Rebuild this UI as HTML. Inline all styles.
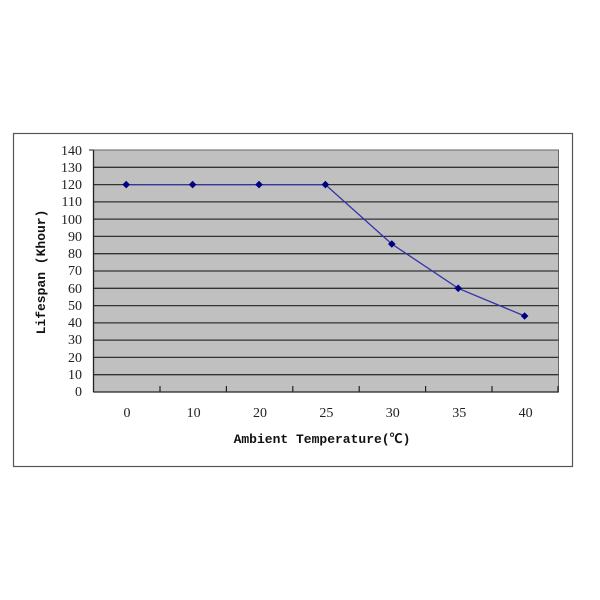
<!DOCTYPE html>
<html><head><style>body{margin:0;background:#fff}</style></head><body>
<svg width="600" height="600" xmlns="http://www.w3.org/2000/svg" style="display:block">
<rect x="13.5" y="133.5" width="559" height="333" fill="#fff" stroke="#555" stroke-width="1.2"/>
<rect x="93.5" y="150" width="465" height="242" fill="#c0c0c0" stroke="#666" stroke-width="1"/>
<g stroke="#333" stroke-width="1.3">
<line x1="93.5" x2="558.5" y1="167.3" y2="167.3"/><line x1="93.5" x2="558.5" y1="184.6" y2="184.6"/>
<line x1="93.5" x2="558.5" y1="201.9" y2="201.9"/><line x1="93.5" x2="558.5" y1="219.1" y2="219.1"/>
<line x1="93.5" x2="558.5" y1="236.4" y2="236.4"/><line x1="93.5" x2="558.5" y1="253.7" y2="253.7"/>
<line x1="93.5" x2="558.5" y1="271" y2="271"/><line x1="93.5" x2="558.5" y1="288.3" y2="288.3"/>
<line x1="93.5" x2="558.5" y1="305.6" y2="305.6"/><line x1="93.5" x2="558.5" y1="322.9" y2="322.9"/>
<line x1="93.5" x2="558.5" y1="340.1" y2="340.1"/><line x1="93.5" x2="558.5" y1="357.4" y2="357.4"/>
<line x1="93.5" x2="558.5" y1="374.7" y2="374.7"/>
</g>
<line x1="93.5" x2="558.5" y1="392" y2="392" stroke="#222" stroke-width="1.3"/>
<line x1="93.5" x2="93.5" y1="150" y2="392" stroke="#222" stroke-width="1.3"/>
<line x1="89" x2="93.5" y1="150" y2="150" stroke="#222"/>
<g stroke="#222" stroke-width="1.2">
<line x1="160" x2="160" y1="386" y2="392"/><line x1="226.4" x2="226.4" y1="386" y2="392"/>
<line x1="292.8" x2="292.8" y1="386" y2="392"/><line x1="359.2" x2="359.2" y1="386" y2="392"/>
<line x1="425.6" x2="425.6" y1="386" y2="392"/><line x1="492" x2="492" y1="386" y2="392"/>
<line x1="558" x2="558" y1="386" y2="392"/>
</g>
<polyline points="126.2,184.6 192.6,184.6 259,184.6 325.4,184.6 391.8,244 458.2,288.3 524.6,316" fill="none" stroke="#3333aa" stroke-width="1.3"/>
<g fill="#000080">
<path d="M126.2,180.8l3.8,3.8l-3.8,3.8l-3.8,-3.8z"/><path d="M192.6,180.8l3.8,3.8l-3.8,3.8l-3.8,-3.8z"/>
<path d="M259,180.8l3.8,3.8l-3.8,3.8l-3.8,-3.8z"/><path d="M325.4,180.8l3.8,3.8l-3.8,3.8l-3.8,-3.8z"/>
<path d="M391.8,240.2l3.8,3.8l-3.8,3.8l-3.8,-3.8z"/><path d="M458.2,284.5l3.8,3.8l-3.8,3.8l-3.8,-3.8z"/>
<path d="M524.6,312.2l3.8,3.8l-3.8,3.8l-3.8,-3.8z"/>
</g>
<g font-family="Liberation Serif, serif" font-size="14" fill="#222" text-anchor="end">
<text x="82" y="155">140</text><text x="82" y="172">130</text><text x="82" y="189">120</text>
<text x="82" y="206">110</text><text x="82" y="224">100</text><text x="82" y="241">90</text>
<text x="82" y="258">80</text><text x="82" y="275">70</text><text x="82" y="293">60</text>
<text x="82" y="310">50</text><text x="82" y="327">40</text><text x="82" y="344">30</text>
<text x="82" y="362">20</text><text x="82" y="379">10</text><text x="82" y="396">0</text>
</g>
<g font-family="Liberation Serif, serif" font-size="14" fill="#222" text-anchor="middle">
<text x="127" y="417">0</text><text x="193.6" y="417">10</text><text x="260" y="417">20</text>
<text x="326.4" y="417">25</text><text x="392.8" y="417">30</text><text x="459.2" y="417">35</text>
<text x="525.6" y="417">40</text>
</g>
<text x="322" y="443" font-family="Liberation Mono, 'Noto Sans CJK SC', monospace" font-size="13" font-weight="bold" text-anchor="middle" fill="#111">Ambient Temperature(℃)</text>
<text transform="translate(45,272) rotate(-90)" font-family="Liberation Mono, monospace" font-size="13" font-weight="bold" text-anchor="middle" fill="#111">Lifespan (Khour)</text>
</svg>
</body></html>
